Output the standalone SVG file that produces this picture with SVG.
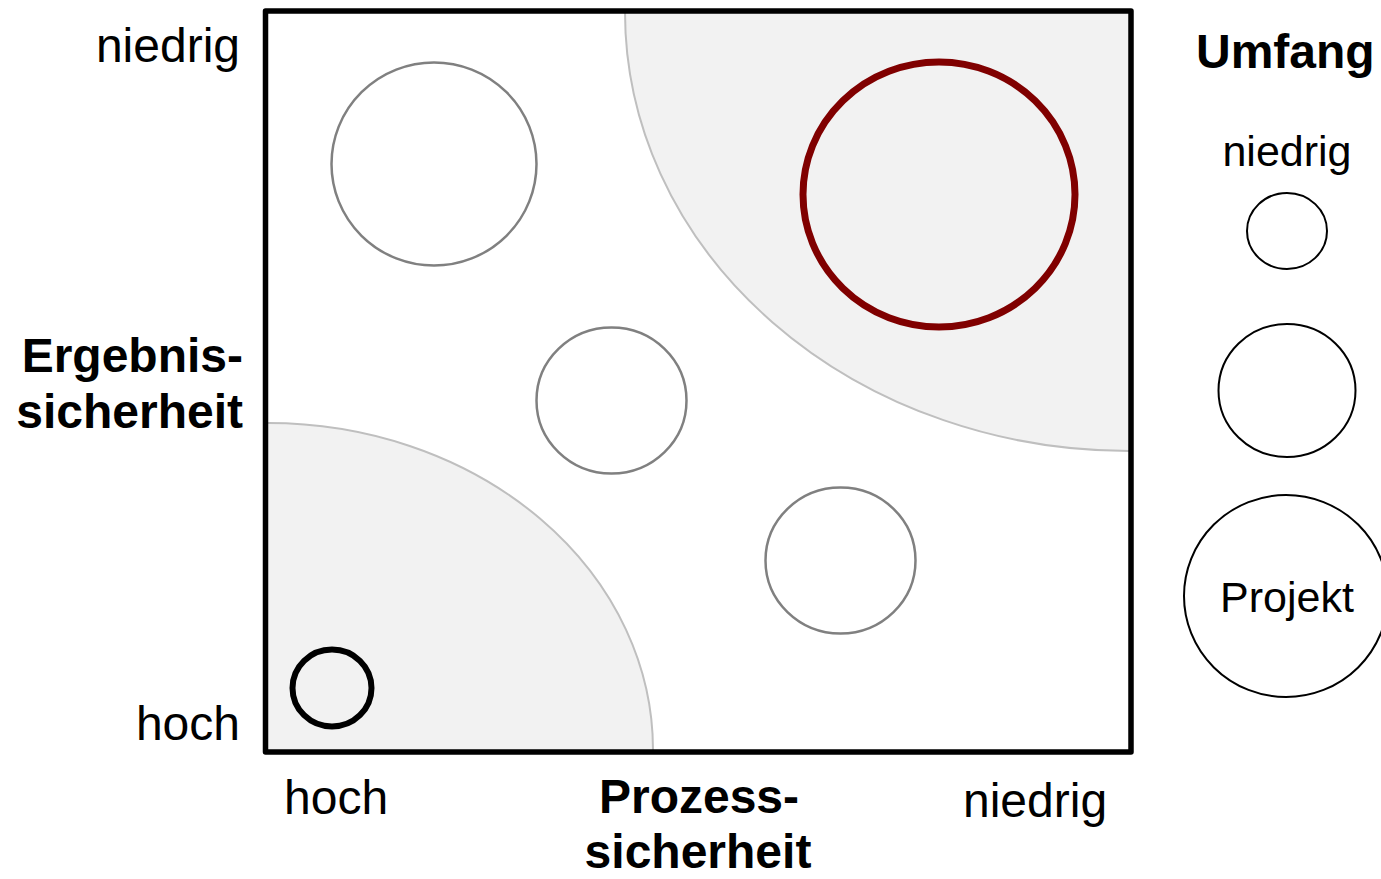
<svg xmlns="http://www.w3.org/2000/svg" width="1381" height="879" viewBox="0 0 1381 879">
<style>
.t{font-family:"Liberation Sans",Arial,sans-serif;font-size:48px;fill:#000}
.b{font-weight:bold}
.lg{font-size:43px}
.zone{fill:#f2f2f2;stroke:none}
.zarc{fill:none;stroke:#bfbfbf;stroke-width:2}
.gc{fill:none;stroke:#808080;stroke-width:2.5}
.lc{fill:#fff;stroke:#000;stroke-width:2}
</style>
<rect width="1381" height="879" fill="#fff"/>
<g id="zone-high">
<path class="zone" d="M 268 423 A 385 327 0 0 1 653 750 L 268 750 Z"/>
<path class="zarc" d="M 268 423 A 385 327 0 0 1 653 750"/>
</g>
<g id="zone-low">
<path class="zone" d="M 625 12 A 504 439 0 0 0 1129 451 L 1129 12 Z"/>
<path class="zarc" d="M 625 12 A 504 439 0 0 0 1129 451"/>
</g>
<g id="frame">
<rect x="265.5" y="11" width="865.5" height="741" fill="none" stroke="#000" stroke-width="5.5" stroke-linejoin="round"/>
</g>
<g id="node-1"><ellipse class="gc" cx="434" cy="164" rx="102.5" ry="101.5"/></g>
<g id="node-2"><ellipse cx="939" cy="194.5" rx="136" ry="132.5" fill="none" stroke="#800000" stroke-width="7"/></g>
<g id="node-3"><ellipse class="gc" cx="611.5" cy="400.5" rx="75" ry="73"/></g>
<g id="node-4"><ellipse class="gc" cx="840.5" cy="560.5" rx="75" ry="73"/></g>
<g id="node-5"><ellipse cx="332" cy="688" rx="39.5" ry="38.5" fill="none" stroke="#000" stroke-width="6"/></g>
<g id="axis-y">
<text class="t" x="240" y="62" text-anchor="end">niedrig</text>
<text class="t b" x="243" y="372" text-anchor="end">Ergebnis-</text>
<text class="t b" x="243" y="428" text-anchor="end">sicherheit</text>
<text class="t" x="240" y="740" text-anchor="end">hoch</text>
</g>
<g id="axis-x">
<text class="t" x="284" y="814">hoch</text>
<text class="t b" x="699" y="813" text-anchor="middle">Prozess-</text>
<text class="t b" x="698" y="868" text-anchor="middle">sicherheit</text>
<text class="t" x="963" y="817">niedrig</text>
</g>
<g id="legend">
<text class="t b" x="1196" y="68">Umfang</text>
<text class="t lg" x="1287" y="166" text-anchor="middle">niedrig</text>
<g id="legend-small"><ellipse class="lc" cx="1287" cy="231" rx="40" ry="38"/></g>
<g id="legend-medium"><ellipse class="lc" cx="1287" cy="390.5" rx="68.5" ry="66.5"/></g>
<g id="legend-large"><ellipse class="lc" cx="1286" cy="596" rx="102" ry="101"/>
<text class="t lg" x="1287" y="612" text-anchor="middle">Projekt</text></g>
</g>
</svg>
